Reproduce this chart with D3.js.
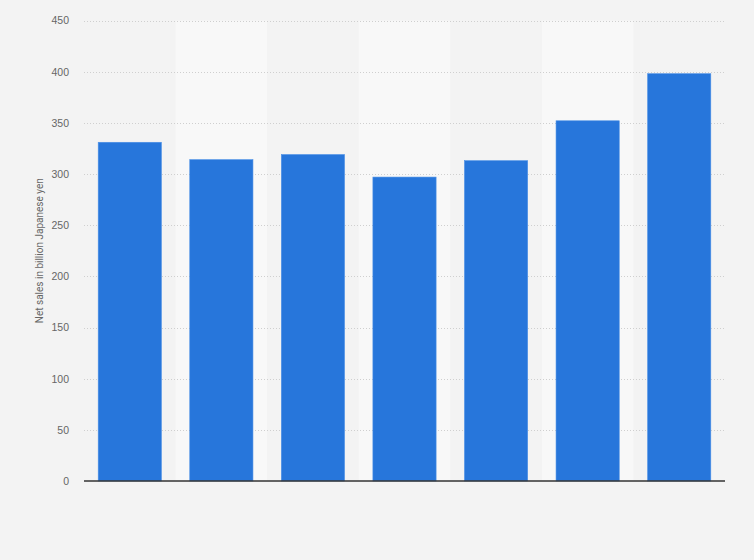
<!DOCTYPE html>
<html>
<head>
<meta charset="utf-8">
<script src="https://cdn.jsdelivr.net/npm/d3@7"></script>
<style>
  html, body { margin: 0; padding: 0; background: #f3f3f3; }
  svg { display: block; font-family: Roboto, "Open Sans", Arial, sans-serif; }
</style>
</head>
<body>
<div id="chart"></div>
<script>
// Net sales per year (labels are hidden in the original, so keep neutral keys)
var categories = ['c1', 'c2', 'c3', 'c4', 'c5', 'c6', 'c7'];
var values     = [331, 314, 319, 297, 313, 352, 398];
var yTicks     = [0, 50, 100, 150, 200, 250, 300, 350, 400, 450];
var yLabel     = 'Net sales in billion Japanese yen';

var width = 754, height = 560;
var margin = { top: 20.5, right: 29, bottom: 79, left: 84 };

var svg = d3.select('#chart').append('svg')
  .attr('width', width)
  .attr('height', height);

svg.append('rect')
  .attr('width', width)
  .attr('height', height)
  .attr('fill', '#f3f3f3');

var x = d3.scaleBand()
  .domain(categories)
  .range([margin.left, width - margin.right])
  .paddingInner(0.31)
  .paddingOuter(0.155);

var y = d3.scaleLinear()
  .domain([0, 450])
  .range([height - margin.bottom, margin.top]);

// Alternating column shading
var step = x.step();
svg.append('g').selectAll('rect')
  .data(categories.filter(function(d, i) { return i % 2 === 1; }))
  .enter().append('rect')
  .attr('x', function(d) { return x(d) - step * x.paddingInner() / 2; })
  .attr('y', margin.top)
  .attr('width', step)
  .attr('height', y(0) - margin.top)
  .attr('fill', '#f8f8f8');

// Gridlines
svg.append('g').selectAll('line')
  .data(yTicks.filter(function(d) { return d > 0; }))
  .enter().append('line')
  .attr('x1', margin.left)
  .attr('x2', width - margin.right)
  .attr('y1', function(d) { return Math.round(y(d)) + 0.5; })
  .attr('y2', function(d) { return Math.round(y(d)) + 0.5; })
  .attr('stroke', '#cfcfcf')
  .attr('stroke-width', 1)
  .attr('stroke-dasharray', '1,2');

// Bars
svg.append('g').selectAll('rect')
  .data(values)
  .enter().append('rect')
  .attr('x', function(d, i) { return x(categories[i]); })
  .attr('y', function(d) { return y(d); })
  .attr('width', x.bandwidth())
  .attr('height', function(d) { return y(0) - y(d); })
  .attr('fill', '#2776db')
  .attr('stroke', '#4a8fe6')
  .attr('stroke-width', 0.6);

// Baseline
svg.append('line')
  .attr('x1', margin.left)
  .attr('x2', width - margin.right)
  .attr('y1', y(0))
  .attr('y2', y(0))
  .attr('stroke', '#333')
  .attr('stroke-width', 1.3);

// Y axis tick labels
var yAxis = d3.axisLeft(y).tickValues(yTicks).tickSize(0).tickPadding(15);
var gy = svg.append('g')
  .attr('transform', 'translate(' + margin.left + ',0)')
  .call(yAxis);
gy.select('.domain').remove();
gy.selectAll('text')
  .attr('fill', '#666')
  .style('font-size', '10.5px');

// Y axis title
svg.append('text')
  .attr('transform', 'translate(43,' + ((margin.top + y(0)) / 2) + ') rotate(-90)')
  .attr('text-anchor', 'middle')
  .attr('fill', '#666')
  .style('font-size', '10px')
  .text(yLabel);
</script>
</body>
</html>
